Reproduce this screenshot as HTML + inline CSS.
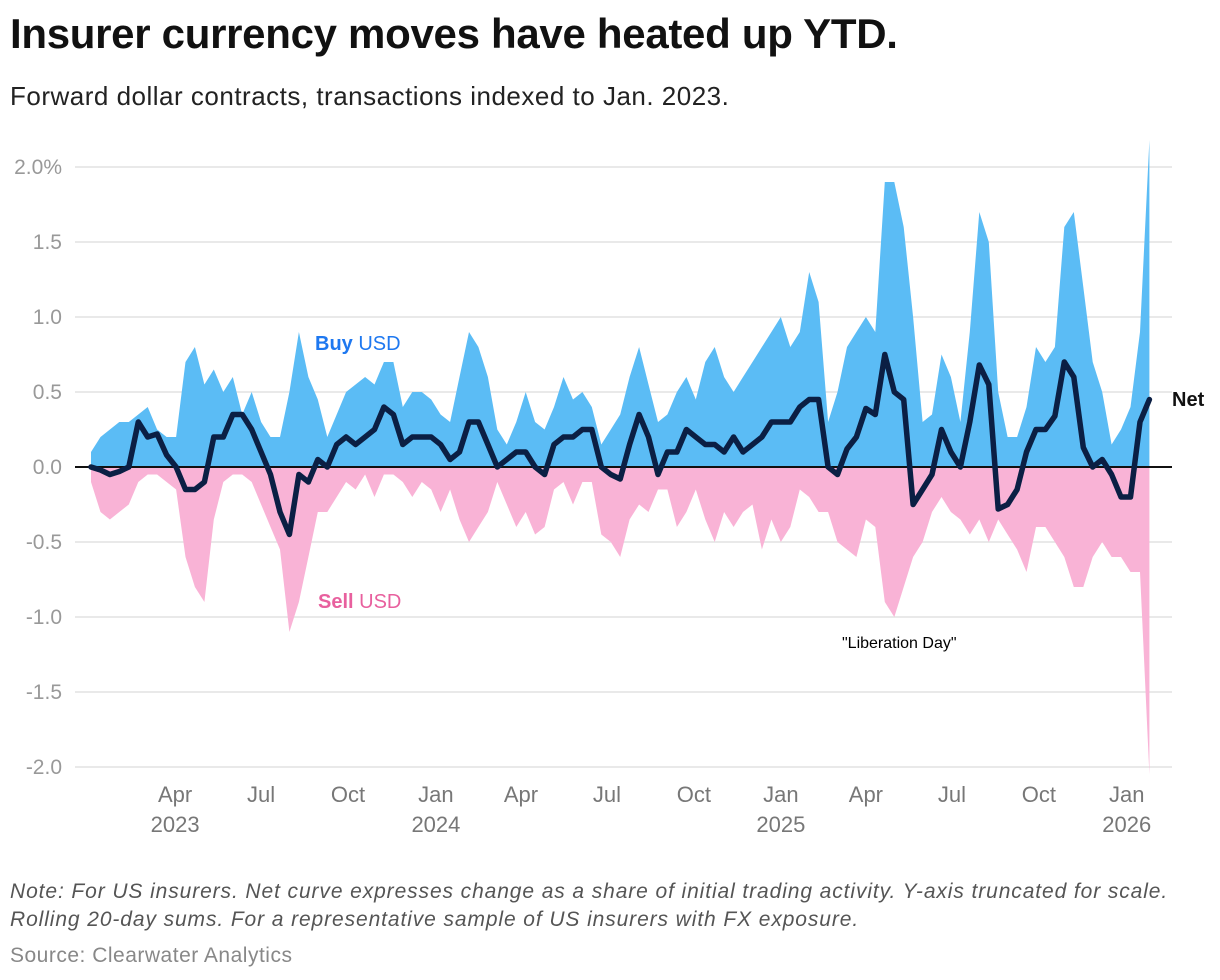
<!DOCTYPE html>
<html><head><meta charset="utf-8">
<style>
body{margin:0;background:#fff;font-family:"Liberation Sans",sans-serif;}
#wrap{position:relative;width:1220px;height:980px;overflow:hidden;}
.t{position:absolute;white-space:nowrap;}
</style></head>
<body>
<div id="wrap">
<div class="t" style="left:10px;top:10px;font-size:42px;font-weight:bold;color:#111;letter-spacing:-0.3px">Insurer currency moves have heated up YTD.</div>
<div class="t" style="left:10px;top:81px;font-size:26px;color:#222;letter-spacing:0.5px">Forward dollar contracts, transactions indexed to Jan. 2023.</div>
<svg id="chart" width="1220" height="880" style="position:absolute;left:0;top:0"></svg>
<div class="t" style="left:10px;top:878px;font-size:21px;font-style:italic;color:#555;line-height:28px;letter-spacing:0.9px">Note: For US insurers. Net curve expresses change as a share of initial trading activity. Y-axis truncated for scale.<br>Rolling 20-day sums. For a representative sample of US insurers with FX exposure.</div>
<div class="t" style="left:10px;top:944px;font-size:21px;color:#888;letter-spacing:0.5px">Source: Clearwater Analytics</div>
</div>
<script>
const buy=[.1,.2,.25,.3,.3,.35,.4,.25,.2,.2,.7,.8,.55,.65,.5,.6,.35,.5,.3,.2,.2,.5,.9,.6,.45,.2,.35,.5,.55,.6,.55,.7,.7,.4,.5,.5,.45,.35,.3,.6,.9,.8,.6,.25,.15,.3,.5,.3,.25,.4,.6,.45,.5,.4,.15,.25,.35,.6,.8,.55,.3,.35,.5,.6,.45,.7,.8,.6,.5,.6,.7,.8,.9,1.0,.8,.9,1.3,1.1,.3,.5,.8,.9,1.0,.9,1.9,1.9,1.6,1.0,.3,.35,.75,.6,.3,.9,1.7,1.5,.5,.2,.2,.4,.8,.7,.8,1.6,1.7,1.2,.7,.5,.15,.25,.4,.9,2.18];
const sell=[-.1,-.3,-.35,-.3,-.25,-.1,-.05,-.05,-.1,-.15,-.6,-.8,-.9,-.35,-.1,-.05,-.05,-.1,-.25,-.4,-.55,-1.1,-.9,-.6,-.3,-.3,-.2,-.1,-.15,-.05,-.2,-.05,-.05,-.1,-.2,-.1,-.15,-.3,-.15,-.35,-.5,-.4,-.3,-.1,-.25,-.4,-.3,-.45,-.4,-.15,-.1,-.25,-.1,-.1,-.45,-.5,-.6,-.35,-.25,-.3,-.15,-.15,-.4,-.3,-.15,-.35,-.5,-.3,-.4,-.3,-.25,-.55,-.35,-.5,-.4,-.15,-.2,-.3,-.3,-.5,-.55,-.6,-.35,-.4,-.9,-1.0,-.8,-.6,-.5,-.3,-.2,-.3,-.35,-.45,-.35,-.5,-.35,-.45,-.55,-.7,-.4,-.4,-.5,-.6,-.8,-.8,-.6,-.5,-.6,-.6,-.7,-.7,-2.05];
const net=[0,-.02,-.05,-.03,0,.3,.2,.22,.08,0,-.15,-.15,-.1,.2,.2,.35,.35,.25,.1,-.05,-.3,-.45,-.05,-.1,.05,0,.15,.2,.15,.2,.25,.4,.35,.15,.2,.2,.2,.15,.05,.1,.3,.3,.15,0,.05,.1,.1,0,-.05,.15,.2,.2,.25,.25,0,-.05,-.08,.15,.35,.2,-.05,.1,.1,.25,.2,.15,.15,.1,.2,.1,.15,.2,.3,.3,.3,.4,.45,.45,0,-.05,.12,.2,.39,.35,.75,.5,.45,-.25,-.15,-.05,.25,.1,0,.3,.68,.55,-.28,-.25,-.15,.1,.25,.25,.34,.7,.6,.13,0,.05,-.05,-.2,-.2,.3,.45];
const yTicks=[2.0,1.5,1.0,0.5,0.0,-0.5,-1.0,-1.5,-2.0];
const yTickLabels=["2.0%","1.5","1.0","0.5","0.0","-0.5","-1.0","-1.5","-2.0"];
const xTickDays=[89,180,272,365,455,546,638,730,820,911,1003,1096];
const xTickMonths=["Apr","Jul","Oct","Jan","Apr","Jul","Oct","Jan","Apr","Jul","Oct","Jan"];
const xTickYears=["2023","","","2024","","","","2025","","","","2026"];
const stepDays=10;
const NS="http://www.w3.org/2000/svg";
const svg=document.getElementById('chart');
const X=d=>91+d*0.945;
const Y=v=>467-v*150;
function mk(tag,attrs){const e=document.createElementNS(NS,tag);for(const k in attrs)e.setAttribute(k,attrs[k]);svg.appendChild(e);return e;}
yTicks.forEach((v,i)=>{
  const g=mk('line',{x1:75,x2:1172,y1:Y(v),y2:Y(v),stroke:'#e2e2e2','stroke-width':1.5});
  
  
  const t=mk('text',{x:62,y:Y(v)+7,'text-anchor':'end','font-size':21,fill:'#999','font-family':'Liberation Sans, sans-serif'});
  t.textContent=yTickLabels[i];
  
  
});
function area(arr,color,name){
  let d='M'+X(0)+','+Y(0);
  arr.forEach((v,i)=>{d+=' L'+X(i*stepDays).toFixed(1)+','+Y(v).toFixed(1);});
  d+=' L'+X((arr.length-1)*stepDays).toFixed(1)+','+Y(0)+' Z';
  const p=mk('path',{d:d,fill:color});
  
  
}
area(buy,'#5bbcf5','buy-usd-area');
area(sell,'#f9b3d6','sell-usd-area');
const z=mk('line',{x1:75,x2:1172,y1:Y(0),y2:Y(0),stroke:'#111','stroke-width':2});


let nd='';
net.forEach((v,i)=>{nd+=(i?' L':'M')+X(i*stepDays).toFixed(1)+','+Y(v).toFixed(1);});
const nl=mk('path',{d:nd,fill:'none',stroke:'#0b1f44','stroke-width':5.5,'stroke-linejoin':'round','stroke-linecap':'round'});


xTickDays.forEach((d,i)=>{
  const t=mk('text',{x:X(d),y:802,'text-anchor':'middle','font-size':22,fill:'#777','font-family':'Liberation Sans, sans-serif'});
  t.textContent=xTickMonths[i];
  
  
  if(xTickYears[i]){
    const ty=mk('text',{x:X(d),y:832,'text-anchor':'middle','font-size':22,fill:'#777','font-family':'Liberation Sans, sans-serif'});
    ty.textContent=xTickYears[i];
    
    
  }
});
function label(x,y,html,name,size,anchor){
  const t=mk('text',{x:x,y:y,'font-size':size,'font-family':'Liberation Sans, sans-serif','text-anchor':anchor||'start'});
  t.innerHTML=html;
  
  
}
label(315,350,'<tspan font-weight="bold" fill="#1e78f0">Buy</tspan><tspan fill="#1e78f0"> USD</tspan>','buy-usd-label',20);
label(318,608,'<tspan font-weight="bold" fill="#e8609e">Sell</tspan><tspan fill="#e8609e"> USD</tspan>','sell-usd-label',20);
label(1172,406,'<tspan font-weight="bold" fill="#111">Net</tspan>','net-label',20);
label(842,648,'"Liberation Day"','liberation-day-annotation',16);
</script>
</body></html>
